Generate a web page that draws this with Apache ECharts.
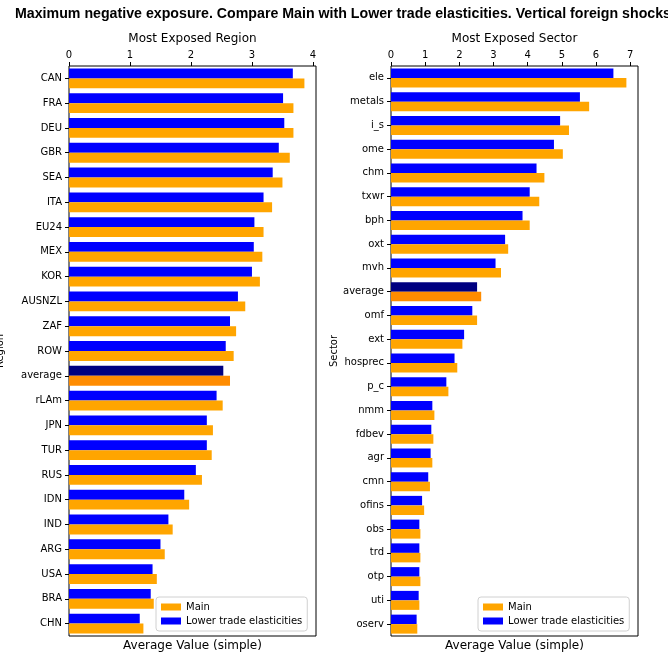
<!DOCTYPE html>
<html>
<head>
<meta charset="utf-8">
<script src="https://cdn.jsdelivr.net/npm/echarts@6/dist/echarts.min.js"></script>
<style>
  html, body { margin: 0; padding: 0; background: #fff; }
  #chart { width: 668px; height: 657px; }
</style>
</head>
<body>
<div id="chart"></div>
<script>
// most exposed region
const regions = ["CAN", "FRA", "DEU", "GBR", "SEA", "ITA", "EU24", "MEX", "KOR", "AUSNZL", "ZAF", "ROW",
  "average", "rLAm", "JPN", "TUR", "RUS", "IDN", "IND", "ARG", "USA", "BRA", "CHN"];
const regionMain = [3.86, 3.68, 3.68, 3.62, 3.50, 3.33, 3.19, 3.17, 3.13, 2.89, 2.74, 2.70,
  2.64, 2.52, 2.36, 2.34, 2.18, 1.97, 1.70, 1.57, 1.44, 1.39, 1.22];
const regionLower = [3.67, 3.51, 3.53, 3.44, 3.34, 3.19, 3.04, 3.03, 3.00, 2.77, 2.64, 2.57,
  2.53, 2.42, 2.26, 2.26, 2.08, 1.89, 1.63, 1.50, 1.37, 1.34, 1.16];

// most exposed sector
const sectors = ["ele", "metals", "i_s", "ome", "chm", "txwr", "bph", "oxt", "mvh", "average", "omf", "ext",
  "hosprec", "p_c", "nmm", "fdbev", "agr", "cmn", "ofins", "obs", "trd", "otp", "uti", "oserv"];
const sectorMain = [6.89, 5.80, 5.21, 5.03, 4.49, 4.34, 4.06, 3.43, 3.22, 2.64, 2.52, 2.09,
  1.94, 1.68, 1.27, 1.24, 1.21, 1.14, 0.97, 0.86, 0.86, 0.86, 0.83, 0.77];
const sectorLower = [6.51, 5.53, 4.95, 4.77, 4.26, 4.06, 3.85, 3.34, 3.06, 2.52, 2.38, 2.14,
  1.86, 1.62, 1.21, 1.18, 1.16, 1.09, 0.91, 0.83, 0.83, 0.83, 0.81, 0.75];

const regionTicks = [0, 1, 2, 3, 4];
const sectorTicks = [0, 1, 2, 3, 4, 5, 6, 7];

const FONT = "DejaVu Sans";

// the "average" row gets darker colours
function barData(values, cats, avgColor) {
  return values.map((v, i) => {
    if (cats[i] === "average") {
      return { value: v, itemStyle: { color: avgColor } };
    }
    return v;
  });
}

function topAxis(grid, max, ticks, name) {
  return {
    type: "value", gridIndex: grid, position: "top", min: 0, max: max,
    name: name, nameLocation: "middle", nameGap: 20,
    nameTextStyle: { fontFamily: FONT, fontSize: 12, color: "#000" },
    axisLine: { show: false },
    axisTick: { show: true, inside: false, length: 4, customValues: ticks, lineStyle: { color: "#000" } },
    axisLabel: { customValues: ticks, margin: 6, fontFamily: FONT, fontSize: 10, color: "#000" },
    splitLine: { show: false },
  };
}

function bottomAxis(grid, name) {
  return {
    type: "value", gridIndex: grid, position: "bottom", min: 0, max: 1,
    name: name, nameLocation: "middle", nameGap: 4,
    nameTextStyle: { fontFamily: FONT, fontSize: 12, color: "#000", verticalAlign: "top" },
    axisLine: { show: false }, axisTick: { show: false },
    axisLabel: { show: false }, splitLine: { show: false },
  };
}

function catAxis(grid, cats, name, gap) {
  return {
    type: "category", gridIndex: grid, data: cats, inverse: true,
    name: name, nameLocation: "middle", nameRotate: 90, nameGap: gap,
    nameTextStyle: { fontFamily: FONT, fontSize: 10, color: "#000" },
    axisLine: { show: false },
    axisTick: { show: true, alignWithLabel: true, length: 4, lineStyle: { color: "#000" } },
    axisLabel: { margin: 7, fontFamily: FONT, fontSize: 10, color: "#000", interval: 0 },
    splitLine: { show: false },
  };
}

function legendAt(left) {
  return {
    left: left, top: 597, orient: "vertical",
    data: ["Main", "Lower trade elasticities"],
    icon: "rect",
    itemWidth: 20, itemHeight: 7, itemGap: 2, itemTextGap: 8,
    padding: [4, 5, 4, 5],
    borderColor: "#d0d0d0", borderWidth: 1, borderRadius: 3,
    backgroundColor: "rgba(255,255,255,0.8)",
    selectedMode: false,
    textStyle: { fontFamily: FONT, fontSize: 10, color: "#000", lineHeight: 12 },
  };
}

const chart = echarts.init(document.getElementById("chart"));

chart.setOption({
  animation: false,
  title: {
    text: "Maximum negative exposure. Compare Main with Lower trade elasticities. Vertical foreign shocks",
    left: 10, top: 2,
    textStyle: { fontFamily: "Liberation Sans", fontWeight: "bold", fontSize: 14.2, color: "#000" },
  },
  legend: [legendAt(156), legendAt(478)],
  grid: [
    { left: 69, top: 66, width: 247, height: 570, show: true, borderColor: "#000", borderWidth: 1,
      containLabel: false, outerBoundsMode: "none" },
    { left: 391, top: 66, width: 247, height: 570, show: true, borderColor: "#000", borderWidth: 1,
      containLabel: false, outerBoundsMode: "none" },
  ],
  xAxis: [
    topAxis(0, 4.05, regionTicks, "Most Exposed Region"),
    bottomAxis(0, "Average Value (simple)"),
    topAxis(1, 7.23, sectorTicks, "Most Exposed Sector"),
    bottomAxis(1, "Average Value (simple)"),
  ],
  yAxis: [
    catAxis(0, regions, "Region", 64),
    catAxis(1, sectors, "Sector", 52),
  ],
  series: [
    {
      name: "Lower trade elasticities", type: "bar", xAxisIndex: 0, yAxisIndex: 0,
      barWidth: "40%", barGap: "0%", itemStyle: { color: "#0000ff" },
      data: barData(regionLower, regions, "#000080"),
    },
    {
      name: "Main", type: "bar", xAxisIndex: 0, yAxisIndex: 0,
      barWidth: "40%", barGap: "0%", itemStyle: { color: "#ffa500" },
      data: barData(regionMain, regions, "#ff8c00"),
    },
    {
      name: "Lower trade elasticities", type: "bar", xAxisIndex: 2, yAxisIndex: 1,
      barWidth: "40%", barGap: "0%", itemStyle: { color: "#0000ff" },
      data: barData(sectorLower, sectors, "#000080"),
    },
    {
      name: "Main", type: "bar", xAxisIndex: 2, yAxisIndex: 1,
      barWidth: "40%", barGap: "0%", itemStyle: { color: "#ffa500" },
      data: barData(sectorMain, sectors, "#ff8c00"),
    },
  ],
});
</script>
</body>
</html>
